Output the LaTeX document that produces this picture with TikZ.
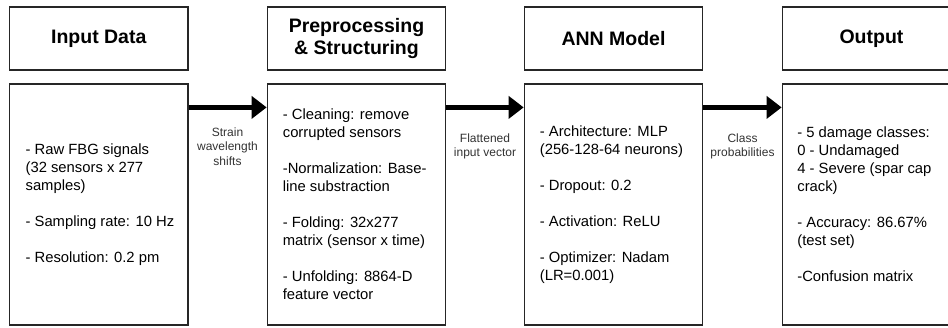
\documentclass[tikz,border=0pt]{standalone}
\usepackage{fontspec}
\setmainfont{Liberation Sans}
\usetikzlibrary{arrows.meta}
\begin{document}
\begin{tikzpicture}[x=1pt,y=-1pt,
  boxframe/.style={draw=black!85,line width=1.2pt,fill=white,inner sep=0pt},
  headbox/.style={boxframe,minimum width=178.5pt,minimum height=63pt,align=center,
    font=\bfseries\fontsize{19.5}{22}\selectfont},
  bodybox/.style={boxframe,minimum width=178.5pt,minimum height=241pt},
  bodytext/.style={inner sep=0pt,anchor=west,align=left,font=\fontsize{14.8}{18}\selectfont},
  flowlabel/.style={inner sep=0pt,align=center,text=black!80,font=\fontsize{12}{14.5}\selectfont},
  flow/.style={line width=4.5pt,-{Triangle[length=15pt,width=22pt]}}]
\useasboundingbox (0,0) rectangle (948,327);
\fill[white] (0,0) rectangle (948,327);
% headers
\node[headbox] (h1) at (98.75,38.5) {Input Data};
\node[headbox] (h2) at (356.5,38.5) {Preprocessing\\\& Structuring};
\node[headbox] (h3) at (613.5,38.5) {ANN Model};
\node[headbox] (h4) at (871.5,38.5) {Output};
% bodies
\node[bodybox] (b1) at (98.75,204.5) {};
\node[bodybox] (b2) at (356.5,204.5) {};
\node[bodybox] (b3) at (613.5,204.5) {};
\node[bodybox] (b4) at (871.5,204.5) {};
% body texts
\node[bodytext] (t1) at ([xshift=16.5pt]b1.west) {- Raw FBG signals\\(32 sensors x 277\\samples)\\[18pt]- Sampling rate: 10 Hz\\[18pt]- Resolution: 0.2 pm};
\node[bodytext] (t2) at ([xshift=16pt]b2.west) {- Cleaning: remove\\corrupted sensors\\[18pt]-Normalization: Base-\\line substraction\\[18pt]- Folding: 32x277\\matrix (sensor x time)\\[18pt]- Unfolding: 8864-D\\feature vector};
\node[bodytext] (t3) at ([xshift=16pt]b3.west) {- Architecture: MLP\\(256-128-64 neurons)\\[18pt]- Dropout: 0.2\\[18pt]- Activation: ReLU\\[18pt]- Optimizer: Nadam\\(LR=0.001)};
\node[bodytext] (t4) at ([xshift=15.5pt]b4.west) {- 5 damage classes:\\0 - Undamaged\\4 - Severe (spar cap\\crack)\\[18pt]- Accuracy: 86.67\%\\(test set)\\[18pt]-Confusion matrix};
% arrows
\draw[flow] ([yshift=-24pt]b1.north east) -- ([yshift=-24pt]b2.north west);
\draw[flow] ([yshift=-24pt]b2.north east) -- ([yshift=-24pt]b3.north west);
\draw[flow] ([yshift=-24pt]b3.north east) -- ([yshift=-24pt]b4.north west);
% arrow labels
\node[flowlabel] (l1) at (227.5,146.5) {Strain\\wavelength\\shifts};
\node[flowlabel] (l2) at (485,146.5) {Flattened\\input vector};
\node[flowlabel] (l3) at (742.5,146.5) {Class\\probabilities};
\end{tikzpicture}
\end{document}
